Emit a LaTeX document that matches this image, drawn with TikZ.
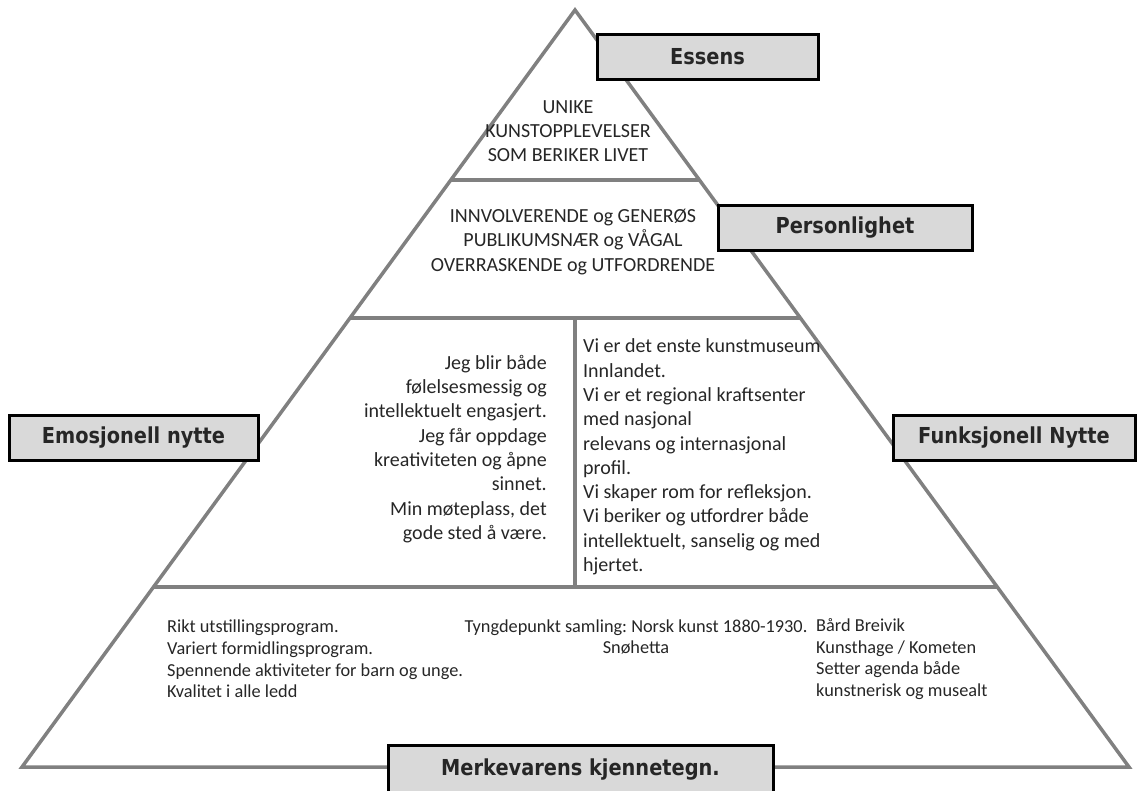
\documentclass[tikz,border=0pt]{standalone}
\usepackage{fontspec}
\usetikzlibrary{calc}
\newfontfamily\bodyfont{Carlito}
\newfontfamily\tagfont[FakeStretch=0.88]{DejaVu Sans}
\definecolor{edgegray}{RGB}{128,128,128}
\definecolor{taggray}{RGB}{217,217,217}
\definecolor{inkgray}{RGB}{38,38,38}

\begin{document}
\frenchspacing
\begin{tikzpicture}[x=1pt, y=-1pt,
        tier/.style={draw=edgegray, line width=3.5pt},
        tag/.style={draw=black, line width=3pt, fill=taggray, minimum height=45pt, inner sep=0pt,
            text=black!85, font=\tagfont\bfseries\fontsize{22}{26}\selectfont},
        body/.style={inner sep=0pt, text=inkgray, font=\bodyfont\fontsize{20}{24.3}\selectfont},
        small/.style={inner sep=0pt, text=inkgray, font=\bodyfont\fontsize{18.3}{21.7}\selectfont}]
                \useasboundingbox (0,0) rectangle (1137,790);
                \clip (0,0) rectangle (1137,790);

                \coordinate (T) at (575,10);
                \coordinate (L) at (22,767);
                \coordinate (R) at (1129,767);
                \coordinate (L1) at ($(T)!0.2246!(L)$);
                \coordinate (R1) at ($(T)!0.2246!(R)$);
                \coordinate (L2) at ($(T)!0.4069!(L)$);
                \coordinate (R2) at ($(T)!0.4069!(R)$);
                \coordinate (L3) at ($(T)!0.7622!(L)$);
                \coordinate (R3) at ($(T)!0.7622!(R)$);
                \coordinate (M2) at (575,318);
                \coordinate (M3) at (575,587);

                % pyramid and tiers
                \draw[tier] (T) -- (L) -- (R) -- cycle;
                \draw[tier] (L1) -- (R1);
                \draw[tier] (L2) -- (R2);
                \draw[tier] (L3) -- (R3);
                \draw[tier] (M2) -- (M3);

                % texts in the tiers
                \node[body, align=center] (essenstxt) at (568,131) {UNIKE\\KUNSTOPPLEVELSER\\SOM BERIKER LIVET};
                \node[body, align=center] (perstxt) at (573,242) {INNVOLVERENDE og GENERØS\\PUBLIKUMSNÆR og VÅGAL\\OVERRASKENDE og UTFORDRENDE};
                \node[body, align=right, anchor=east] (emotxt) at (547,449) {Jeg blir både\\følelsesmessig og\\intellektuelt engasjert.\\Jeg får oppdage\\kreativiteten og åpne\\sinnet.\\Min møteplass, det\\gode sted å være.};
                \node[body, align=left, anchor=west] (funktxt) at (583,457) {Vi er det enste kunstmuseum\\Innlandet.\\Vi er et regional kraftsenter\\med nasjonal\\relevans og internasjonal\\profil.\\Vi skaper rom for refleksjon.\\Vi beriker og utfordrer både\\intellektuelt, sanselig og med\\hjertet.};
                \node[small, align=left, anchor=west] (kjleft) at (167,659) {Rikt utstillingsprogram.\\Variert formidlingsprogram.\\Spennende aktiviteter for barn og unge.\\Kvalitet i alle ledd};
                \node[small, align=center] (kjmid) at (636,637) {Tyngdepunkt samling: Norsk kunst 1880-1930.\\Snøhetta};
                \node[small, align=left, anchor=west] (kjright) at (816,659) {Bård Breivik\\Kunsthage / Kometen\\Setter agenda både\\kunstnerisk og musealt};

                % labels
                \node[tag, minimum width=221pt] (essens) at (707.5,57) {Essens};
                \node[tag, minimum width=254pt] (personlighet) at (845,227.5) {Personlighet};
                \node[tag, minimum width=249pt] (emosjonell) at (133.5,437.5) {Emosjonell nytte};
                \node[tag, minimum width=242pt] (funksjonell) at (1014,437.5) {Funksjonell Nytte};
                \node[tag, minimum width=385pt, minimum height=50pt] (merkevare) at (580.5,770) {Merkevarens kjennetegn.};

            \end{tikzpicture}
\end{document}
